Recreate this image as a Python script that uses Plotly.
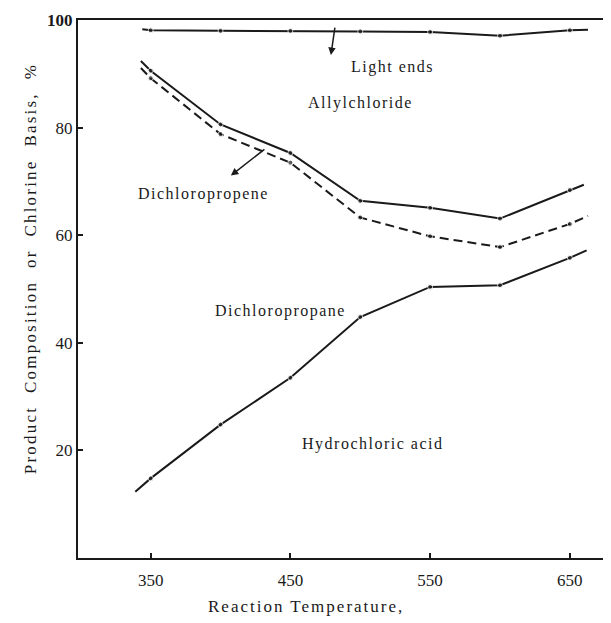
import plotly.graph_objects as go

# ---- data ----
temps = [350, 400, 450, 500, 550, 600, 650]
light_ends = [98.1, 98.0, 98.0, 97.9, 97.8, 97.1, 98.1]
allylchloride_lower = [90.6, 80.6, 75.3, 66.4, 65.1, 63.1, 68.4]
dichloropropene_lower = [89.2, 78.8, 73.5, 63.3, 59.8, 57.8, 62.1]
dichloropropane_lower = [14.8, 24.8, 33.5, 44.8, 50.4, 50.7, 55.8]

# hand-drawn line ends (lines run a little past first/last points)
series_names = ["Light ends", "Allylchloride", "Dichloropropene", "Dichloropropane"]
start_x = [344, 343, 343, 339]
start_y = [98.3, 92.4, 91.1, 12.3]
end_x = [663, 660, 663, 662]
end_y = [98.2, 69.4, 63.6, 57.2]

y_ticks = [20, 40, 60, 80, 100]
y_tick_text = ["20", "40", "60", "80", "<b>100</b>"]
x_ticks = [350, 450, 550, 650]
x_tick_text = ["350", "450", "550", "650"]

FONT = "Liberation Serif"
INK = "#1a1a1a"

# page has an 8px body margin; size the figure so it fits the window
OFF = 8
W, H = 611 - OFF, 623 - OFF
L, R, T, B = 78 - OFF, 3, 16 - OFF, 65
pw, ph = W - L - R, H - T - B


def px2paper(px, py):
    return (px - OFF - L) / pw, 1 - (py - OFF - T) / ph


def sp(t, ls=1.5):
    return '<span style="letter-spacing:%spx">%s</span>' % (ls, t)


fig = go.Figure()
all_vals = [light_ends, allylchloride_lower, dichloropropene_lower, dichloropropane_lower]
dashes = ["solid", "solid", "9px,5px", "solid"]
for i, vals in enumerate(all_vals):
    xs = [start_x[i]] + temps + [end_x[i]]
    ys = [start_y[i]] + vals + [end_y[i]]
    sizes = [0] + [5] * len(temps) + [0]
    fig.add_trace(go.Scatter(
        x=xs, y=ys, mode="lines+markers", name=series_names[i],
        line=dict(color=INK, width=2, dash=dashes[i]),
        marker=dict(color=INK, size=sizes),
        showlegend=False, hoverinfo="skip"))

labels = [
    ("Light ends", 392, 63),
    ("Allylchloride", 360, 100),
    ("Dichloropropene", 203, 191),
    ("Dichloropropane", 280, 309),
    ("Hydrochloric acid", 372, 443),
]
for txt, px, py in labels:
    ax_, ay_ = px2paper(px, py)
    fig.add_annotation(x=ax_, y=ay_, xref="paper", yref="paper", text=sp(txt),
                       showarrow=False, font=dict(family=FONT, size=16, color=INK),
                       xanchor="center", yanchor="middle")

# arrows
fig.add_annotation(x=479, y=93.5, ax=482, ay=98.9, xref="x", yref="y", axref="x", ayref="y",
                   text="", showarrow=True, arrowhead=2, arrowsize=1, arrowwidth=1.5,
                   arrowcolor=INK)
fig.add_annotation(x=407.4, y=71.1, ax=432.5, ay=76.2, xref="x", yref="y",
                   axref="x", ayref="y", text="", showarrow=True, arrowhead=2, arrowsize=1,
                   arrowwidth=1.5, arrowcolor=INK)

# axis titles
tx, ty = px2paper(306, 607)
fig.add_annotation(x=tx, y=ty, xref="paper", yref="paper",
                   text=sp("Reaction Temperature,", 2), showarrow=False,
                   font=dict(family=FONT, size=17, color=INK), yanchor="middle")
tx, ty = px2paper(30, 267)
fig.add_annotation(x=tx, y=ty, xref="paper", yref="paper",
                   text=sp("Product\u00a0\u00a0Composition\u00a0\u00a0or\u00a0\u00a0Chlorine\u00a0\u00a0Basis,\u00a0\u00a0%", 2.2),
                   showarrow=False, textangle=-90,
                   font=dict(family=FONT, size=17, color=INK), xanchor="center", yanchor="middle")

fig.update_layout(
    width=W, height=H,
    margin=dict(l=L, r=R, t=T, b=B),
    paper_bgcolor="white", plot_bgcolor="white",
    xaxis=dict(range=[298, 677.3], tickvals=x_ticks, ticktext=x_tick_text,
               showgrid=False, zeroline=False, showline=True, linecolor=INK, linewidth=2,
               mirror=True, ticks="inside", ticklen=5, tickwidth=1.5, tickcolor=INK,
               ticklabelstandoff=6,
               tickfont=dict(family=FONT, size=17, color=INK)),
    yaxis=dict(range=[0, 100.02], tickvals=y_ticks, ticktext=y_tick_text,
               showgrid=False, zeroline=False, showline=True, linecolor=INK, linewidth=2,
               ticks="inside", ticklen=5, tickwidth=1.5, tickcolor=INK,
               ticklabeloverflow="allow",
               tickfont=dict(family=FONT, size=17, color=INK)),
)

fig.write_html("out.html")
